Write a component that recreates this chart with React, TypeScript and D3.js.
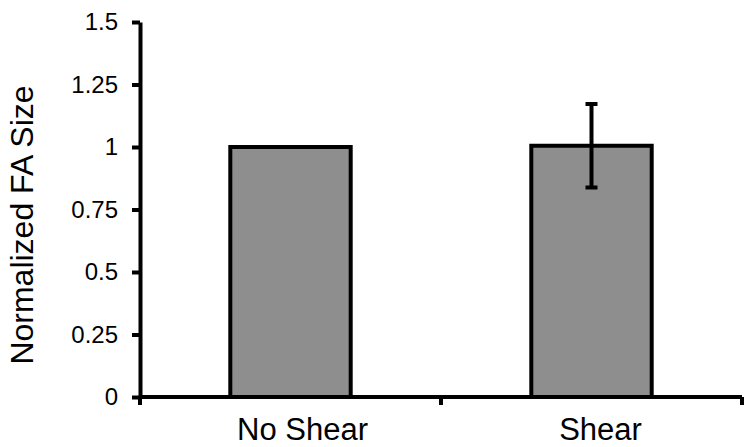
import React, { useEffect, useRef } from "react";
import * as d3 from "d3";

const categories = ["No Shear", "Shear"];
const values = [1.0, 1.005];
const errors = [0, 0.167];
const yTicks = [0, 0.25, 0.5, 0.75, 1, 1.25, 1.5];
const labelShift = [12, 9];

const W = 744;
const H = 447;
const margin = { top: 22, right: 2, bottom: 50, left: 140 };
const font = "'Liberation Sans', Arial, sans-serif";

export default function App() {
  const ref = useRef<SVGSVGElement | null>(null);

  useEffect(() => {
    document.body.style.margin = "0";
    const svg = d3.select(ref.current);
    svg.selectAll("*").remove();

    const x = d3.scaleBand<string>()
      .domain(categories)
      .range([margin.left, W - margin.right])
      .paddingInner(0.6)
      .paddingOuter(0.3);

    const y = d3.scaleLinear()
      .domain([0, 1.5])
      .range([H - margin.bottom, margin.top]);

    const g = svg.append("g");

    // bars
    g.selectAll(".bar")
      .data(categories)
      .enter().append("rect")
      .attr("x", (d) => x(d)!)
      .attr("width", x.bandwidth())
      .attr("y", (d, i) => y(values[i]))
      .attr("height", (d, i) => y(0) - y(values[i]))
      .attr("fill", "#8e8e8e")
      .attr("stroke", "#000")
      .attr("stroke-width", 4);

    // error bars
    const eb = g.selectAll(".err")
      .data(categories.filter((d, i) => errors[i] > 0))
      .enter().append("g");
    eb.each(function (d) {
      const i = categories.indexOf(d);
      const cx = x(d)! + x.bandwidth() / 2;
      const sel = d3.select(this);
      sel.append("line")
        .attr("x1", cx).attr("x2", cx)
        .attr("y1", y(values[i] - errors[i])).attr("y2", y(values[i] + errors[i]));
      [values[i] - errors[i], values[i] + errors[i]].forEach((v) => {
        sel.append("line")
          .attr("x1", cx - 6).attr("x2", cx + 6)
          .attr("y1", y(v)).attr("y2", y(v));
      });
      sel.selectAll("line").attr("stroke", "#000").attr("stroke-width", 4);
    });

    // y axis
    const yAxis = d3.axisLeft(y)
      .tickValues(yTicks)
      .tickFormat((d) => String(d))
      .tickSize(8)
      .tickSizeOuter(0)
      .tickPadding(14);
    const ya = svg.append("g")
      .attr("transform", "translate(" + margin.left + ",0)")
      .call(yAxis);
    ya.select(".domain").attr("stroke-width", 4);
    ya.selectAll(".tick line").attr("stroke-width", 4);
    ya.selectAll(".tick text")
      .attr("font-family", font)
      .attr("font-size", 24)
      .attr("fill", "#000");

    // x axis
    const step = x.step();
    const bounds = [margin.left].concat(
      categories.map((c) => x(c)! + x.bandwidth() + step * 0.3)
    );
    const xa = svg.append("g");
    xa.append("line")
      .attr("x1", margin.left).attr("x2", W - margin.right)
      .attr("y1", y(0)).attr("y2", y(0))
      .attr("stroke", "#000").attr("stroke-width", 4);
    xa.selectAll(".xt")
      .data(bounds)
      .enter().append("line")
      .attr("x1", (d) => d).attr("x2", (d) => d)
      .attr("y1", y(0)).attr("y2", y(0) + 8)
      .attr("stroke", "#000").attr("stroke-width", 4);
    xa.selectAll(".xl")
      .data(categories)
      .enter().append("text")
      .attr("x", (d, i) => x(d)! + x.bandwidth() / 2 + labelShift[i])
      .attr("y", y(0) + 43)
      .attr("text-anchor", "middle")
      .attr("font-family", font)
      .attr("font-size", 31)
      .text((d) => d);

    // y label
    svg.append("text")
      .attr("transform", "translate(33,225) rotate(-90)")
      .attr("text-anchor", "middle")
      .attr("font-family", font)
      .attr("font-size", 32)
      .text("Normalized FA Size");
  }, []);

  return (
    <svg
      ref={ref}
      width={W}
      height={H}
      style={{ display: "block", background: "#fff" }}
    ></svg>
  );
}
